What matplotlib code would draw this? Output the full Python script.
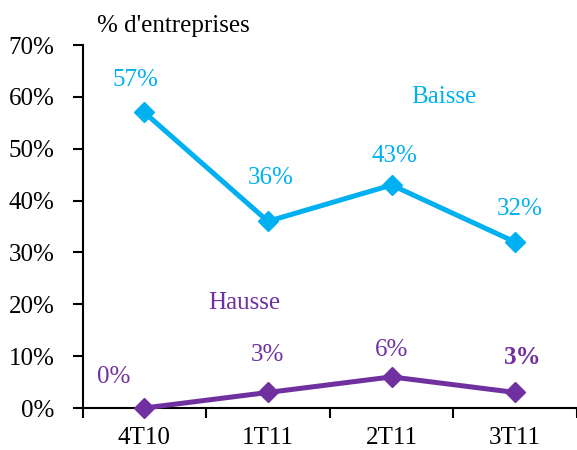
import numpy as np
import matplotlib
matplotlib.use('Agg')
import matplotlib.pyplot as plt
plt.rcParams['font.family'] = 'serif'
plt.rcParams['font.serif'] = ['Liberation Serif', 'DejaVu Serif']

quarters = ['4T10', '1T11', '2T11', '3T11']
baisse = [57, 36, 43, 32]
hausse = [0, 3, 6, 3]
yticks = [0, 10, 20, 30, 40, 50, 60, 70]

cyan = '#00B0F0'
purple = '#7030A0'
fs = 18

fig = plt.figure(figsize=(5.77, 4.5), dpi=100)
ax = fig.add_axes([0.143, 0.0933, 0.857, 0.8067])

x = np.arange(len(quarters))
ax.plot(x, baisse, color=cyan, lw=3.6, marker='D', ms=10, solid_joinstyle='miter', clip_on=False)
ax.plot(x, hausse, color=purple, lw=3.6, marker='D', ms=10, solid_joinstyle='miter', clip_on=False, zorder=5)

# data labels, offsets in pixels
b_off = [(-9, 32), (3, 43), (3, 29), (4, 33)]
for i, v in enumerate(baisse):
    ax.annotate('%d%%' % v, (x[i], v), xytext=b_off[i], textcoords='offset pixels',
                ha='center', va='center', color=cyan, fontsize=fs)
h_off = [(-31, 31), (-1, 37), (0, 27), (8, 35)]
for i, v in enumerate(hausse):
    ax.annotate('%d%%' % v, (x[i], v), xytext=h_off[i], textcoords='offset pixels',
                ha='center', va='center', color=purple, fontsize=fs,
                fontweight='bold' if i == len(hausse) - 1 else 'normal')

ax.text(2.424, 59.9, 'Baisse', color=cyan, fontsize=fs, ha='center', va='center')
ax.text(0.807, 20.2, 'Hausse', color=purple, fontsize=fs, ha='center', va='center')

fig.text(97/577, 1 - 26/450, "% d'entreprises", fontsize=fs, ha='left', va='center')

ax.set_xlim(-0.5, 3.44)
ax.set_ylim(0, 70)
ax.set_yticks(yticks)
ax.set_yticklabels(['%d%%' % t for t in yticks])
ax.set_xticks(x)
ax.set_xticklabels(quarters)
ax.set_xticks(np.arange(-0.5, 3.6, 1.0), minor=True)
ax.tick_params(axis='x', which='major', length=0, pad=14, labelsize=fs)
ax.tick_params(axis='x', which='minor', length=7, width=1.5, direction='out')
ax.tick_params(axis='y', length=7, width=1.5, direction='out', pad=13, labelsize=fs)

for s in ['top', 'right']:
    ax.spines[s].set_visible(False)
for s in ['left', 'bottom']:
    ax.spines[s].set_linewidth(1.5)

plt.savefig('out.png', dpi=100)
